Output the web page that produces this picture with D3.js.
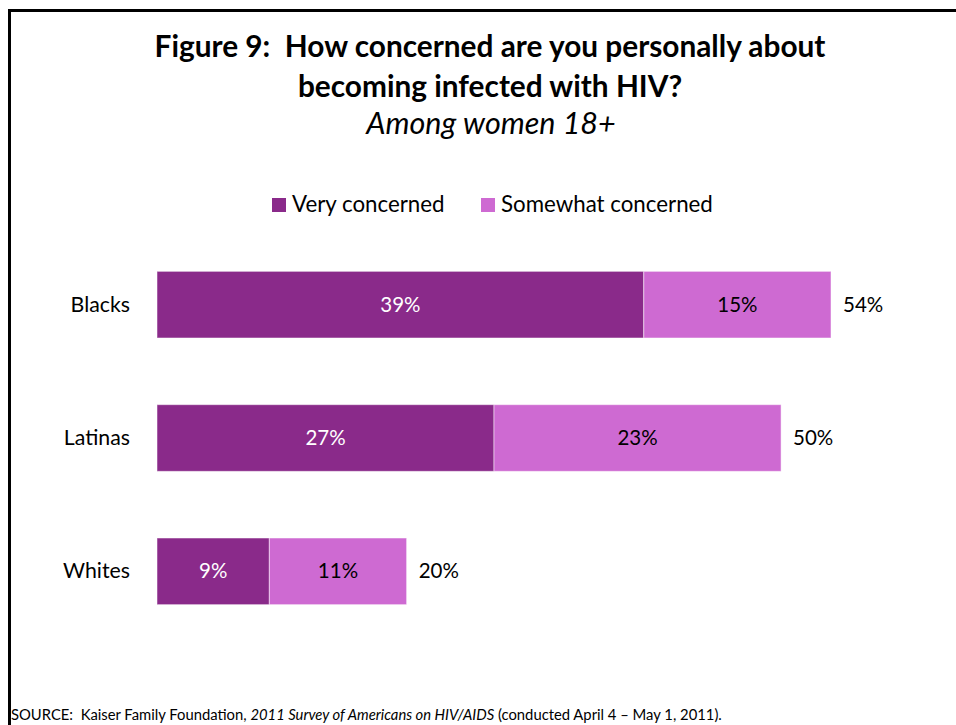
<!DOCTYPE html>
<html><head><meta charset="utf-8">
<script src="https://cdn.jsdelivr.net/npm/d3@7"></script>
<style>
body{margin:0;background:#fff;}
text{font-family:Lato,"Open Sans",sans-serif;white-space:pre;}
</style></head>
<body><svg id="c" width="956" height="725"></svg>
<script>
const categories = ["Blacks","Latinas","Whites"];
const veryConcerned = [39,27,9];
const somewhatConcerned = [15,23,11];
const totals = [54,50,20];
const seriesNames = ["Very concerned","Somewhat concerned"];
const colors = ["#8A2A8A","#CE6AD2"];

const svg = d3.select("#c");
// frame
svg.append("rect").attr("x",9.5).attr("y",10.5).attr("width",960).attr("height",760)
  .attr("fill","none").attr("stroke","#000").attr("stroke-width",3);

svg.append("text").attr("x",490).attr("y",57).attr("text-anchor","middle")
  .attr("font-size",29.8).attr("font-weight","bold").text("Figure 9:  How concerned are you personally about");
svg.append("text").attr("x",490).attr("y",97).attr("text-anchor","middle")
  .attr("font-size",29.8).attr("font-weight","bold").text("becoming infected with HIV?");
svg.append("text").attr("x",491).attr("y",134).attr("text-anchor","middle")
  .attr("font-size",30.5).attr("font-style","italic").text("Among women 18+");

// legend
const leg = [{x:272,name:seriesNames[0],c:colors[0]},{x:481,name:seriesNames[1],c:colors[1]}];
leg.forEach(l=>{
  svg.append("rect").attr("x",l.x).attr("y",198).attr("width",14).attr("height",14).attr("fill",l.c);
  svg.append("text").attr("x",l.x+20).attr("y",212).attr("font-size",22.3).text(l.name);
});

const x = d3.scaleLinear().domain([0,54]).range([157,831]);
const y = d3.scaleBand().domain(categories).range([238,638]).paddingInner(0.5).paddingOuter(0.25);

const g = svg.append("g");
categories.forEach((cat,i)=>{
  const yy = y(cat), h = y.bandwidth();
  const segs = [{s:0,e:veryConcerned[i],c:colors[0],tc:"#fff"},
                {s:veryConcerned[i],e:veryConcerned[i]+somewhatConcerned[i],c:colors[1],tc:"#000"}];
  segs.forEach(sg=>{
    g.append("rect").attr("x",x(sg.s)).attr("y",yy).attr("width",x(sg.e)-x(sg.s)).attr("height",h)
      .attr("fill",sg.c).attr("stroke","#fff").attr("stroke-opacity",0.5).attr("stroke-width",1);
    g.append("text").attr("x",(x(sg.s)+x(sg.e))/2).attr("y",yy+h/2+7).attr("text-anchor","middle")
      .attr("font-size",20.5).attr("fill",sg.tc).text((sg.e-sg.s)+"%");
  });
  g.append("text").attr("x",x(totals[i])+12).attr("y",yy+h/2+7).attr("font-size",20.5).text(totals[i]+"%");
  g.append("text").attr("x",130).attr("y",yy+h/2+7).attr("text-anchor","end").attr("font-size",21.3).text(cat);
});

const src = svg.append("text").attr("x",11).attr("y",720).attr("font-size",14.8);
src.append("tspan").text("SOURCE:  Kaiser Family Foundation, ");
src.append("tspan").attr("font-style","italic").text("2011 Survey of Americans on HIV/AIDS");
src.append("tspan").text(" (conducted April 4 – May 1, 2011).");
</script></body></html>
